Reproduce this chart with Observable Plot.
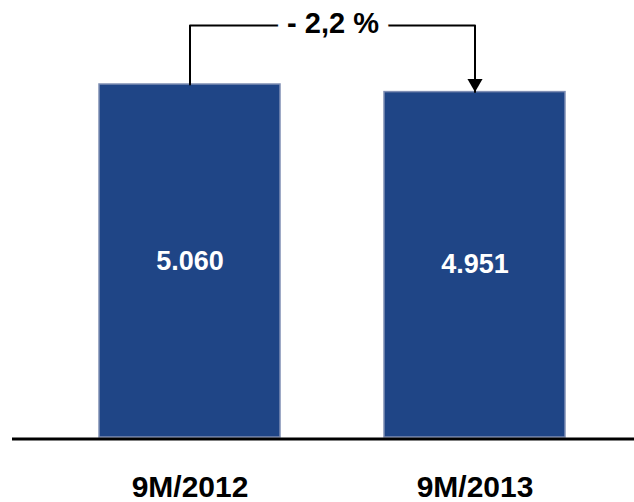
<!DOCTYPE html>
<html><head><meta charset="utf-8">
<script src="https://cdn.jsdelivr.net/npm/d3@7"></script>
<script src="https://cdn.jsdelivr.net/npm/@observablehq/plot@0.6"></script>
<style>html,body{margin:0;padding:0;background:#fff;overflow:hidden}</style>
</head><body><div id="chart"></div>
<script>
const categories = ["9M/2012", "9M/2013"];
const values = [5060, 4951];
const valueLabels = ["5.060", "4.951"];
const changeLabel = "- 2,2 %";
const bracketTop = 5906;

const data = categories.map((c, i) => ({category: c, value: values[i], label: valueLabels[i]}));
const bracket = [
  {category: categories[0], value: values[0]},
  {category: categories[0], value: bracketTop},
  {category: categories[1], value: bracketTop},
  {category: categories[1], value: values[1]}
];
const font = "'Liberation Sans', Arial, sans-serif";

const chart = Plot.plot({
  width: 634,
  height: 502,
  marginLeft: 12,
  marginRight: 0,
  marginTop: 0,
  marginBottom: 0,
  x: {type: "band", domain: categories, range: [40.9, 622.1], paddingInner: 0.366, paddingOuter: 0.2, axis: null},
  y: {domain: [0, 5060], range: [437, 84], axis: null},
  marks: [
    Plot.barY(data, {x: "category", y: "value", fill: "#1F4586", stroke: "#7F8EB4", strokeWidth: 1.5}),
    Plot.ruleY([0], {stroke: "black", strokeWidth: 3, dy: 1.5}),
    Plot.line(bracket, {x: "category", y: "value", stroke: "black", strokeWidth: 2}),
    Plot.dot([data[1]], {x: "category", y: "value", symbol: "triangle", r: 5.6, rotate: 180, fill: "black", stroke: "none", dy: -8.7}),
    Plot.text([changeLabel], {x: () => categories[0], y: () => bracketTop, text: d => d, dx: 143, dy: 8, lineAnchor: "bottom", textAnchor: "middle", fill: "black", stroke: "white", strokeWidth: 20, fontSize: 29, fontWeight: "bold", fontFamily: font}),
    Plot.text(data, {x: "category", y: d => d.value / 2, text: "label", fill: "white", fontSize: 27, fontWeight: "bold", fontFamily: font, lineAnchor: "middle"}),
    Plot.text(data, {x: "category", text: "category", frameAnchor: "bottom", lineAnchor: "bottom", dy: -6, fill: "black", fontSize: 30, fontWeight: "bold", fontFamily: font, letterSpacing: -0.3})
  ]
});
document.getElementById("chart").appendChild(chart);
</script>
</body></html>
